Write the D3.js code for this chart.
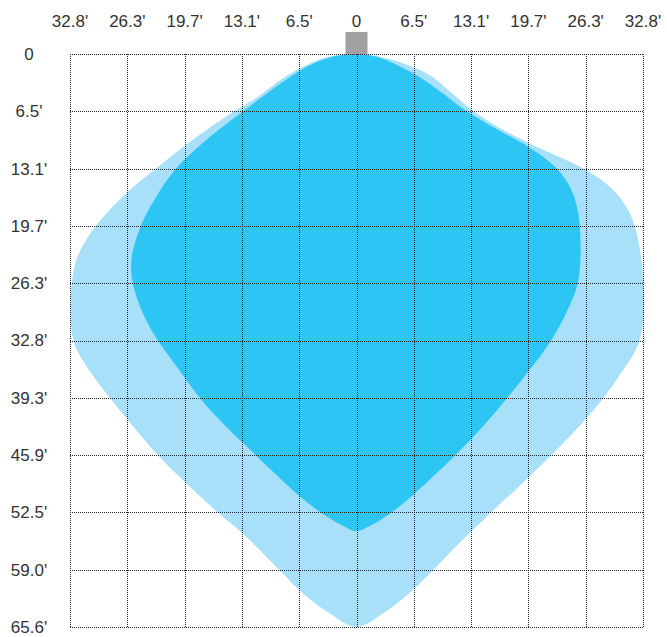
<!DOCTYPE html>
<html>
<head>
<meta charset="utf-8">
<script src="https://cdn.jsdelivr.net/npm/d3@7"></script>
<style>
    body { margin: 0; background: #fff; }
    text { font-family: "Liberation Sans", Arial, sans-serif; fill: #333; }
</style>
</head>
<body>
<svg id="visualization" width="667" height="637"></svg>
<script>
// tick positions in feet and their printed labels
const xTickFeet = [-32.8, -26.24, -19.68, -13.12, -6.56, 0, 6.56, 13.12, 19.68, 26.24, 32.8];
const xTickLabels = ["32.8'", "26.3'", "19.7'", "13.1'", "6.5'", "0", "6.5'", "13.1'", "19.7'", "26.3'", "32.8'"];
const yTickFeet = [0, 6.56, 13.12, 19.68, 26.24, 32.8, 39.36, 45.92, 52.48, 59.04, 65.6];
const yTickLabels = ["0", "6.5'", "13.1'", "19.7'", "26.3'", "32.8'", "39.3'", "45.9'", "52.5'", "59.0'", "65.6'"];

// outer (light) coverage outline, [x ft, depth ft]
const outerShape = [
    [0, 0], [3.43, 0.49], [8.01, 2.21], [10.5, 4.12], [13.36, 6.53], [16.8, 8.7], [20.61, 10.61],
    [25.95, 13.09], [29.39, 15.57], [31.29, 18.24], [32.25, 21.29], [32.86, 26.18], [32.89, 29.69],
    [32.43, 32.74], [31.65, 34.46], [30.53, 36.18], [28.28, 39.38], [25.53, 42.59], [22.32, 45.91],
    [18.78, 49.34], [15.23, 52.66], [11.79, 55.98], [8.78, 59.07], [6.07, 61.71], [3.06, 64.03], [0, 65.6],
    [-3.09, 64.03], [-6.15, 61.74], [-8.82, 59.07], [-12.63, 55.26], [-15.88, 52.47], [-19.5, 49.15],
    [-22.75, 45.91], [-26.18, 41.9], [-28.05, 39.61], [-29.65, 37.55], [-31.02, 35.6], [-32.17, 33.54],
    [-32.63, 31.6], [-32.74, 29.65], [-32.59, 26.18], [-31.94, 23.21], [-30.19, 20.15], [-26.79, 16.34],
    [-22.93, 13.09], [-18.78, 9.85], [-13.97, 6.53], [-11.33, 4.92], [-8.7, 2.98], [-6.07, 1.43], [-3.32, 0.34]
];

// inner (dark) coverage outline
const innerShape = [
    [0, 0], [2.29, 0.31], [6.49, 2.21], [9.35, 4.12], [12.59, 6.53], [16.22, 8.7], [19.66, 10.61],
    [22.9, 13.09], [24.61, 15.57], [25.38, 18.24], [25.64, 21.29], [25.64, 23.35], [25.3, 26.45],
    [24.16, 29.31], [22.32, 32.74], [19.81, 36.18], [17.06, 39.61], [14.31, 42.82], [11.45, 45.79],
    [8.59, 48.54], [6.07, 50.83], [3.78, 52.66], [1.72, 53.92], [0, 54.61], [-1.72, 53.92],
    [-4.01, 52.55], [-6.53, 50.6], [-9.04, 48.31], [-11.79, 45.68], [-14.77, 42.82], [-17.74, 39.61],
    [-20.72, 35.6], [-23.35, 31.83], [-25.07, 28.16], [-25.76, 25.3], [-25.7, 23.01], [-25.19, 21.06],
    [-24.5, 19.23], [-22.93, 16.34], [-20.64, 13.09], [-17.21, 9.85], [-12.94, 6.53], [-10.19, 4.46],
    [-7.44, 2.52], [-4.92, 1.09], [-2.4, 0.23]
];

const setupVisualization = () => {
    const svg = d3.select("#visualization");

    const plot = { left: 70, right: 643, top: 54, bottom: 627 };

    const xScale = d3.scaleLinear()
        .domain([-32.8, 32.8])
        .range([plot.left, plot.right]);
    const yScale = d3.scaleLinear()
        .domain([0, 65.6])
        .range([plot.top, plot.bottom]);

    const shapeLine = d3.line()
        .x(d => xScale(d[0]))
        .y(d => yScale(d[1]))
        .curve(d3.curveCatmullRomClosed.alpha(0.5));

    svg.selectAll(".coverage")
        .data([{ pts: outerShape, colour: "#a8e0fa" }, { pts: innerShape, colour: "#2cc5f4" }])
        .join("path")
        .attr("class", "coverage")
        .attr("fill", d => d.colour)
        .attr("d", d => shapeLine(d.pts));

    // sensor head on top
    svg.append("rect")
        .attr("x", xScale(-1.26))
        .attr("y", yScale(0) - 22)
        .attr("width", xScale(1.26) - xScale(-1.26))
        .attr("height", 22)
        .attr("fill", "#a1a1a1");

    // dotted grid over the shapes
    const snap = v => Math.round(v) + 0.5;
    svg.selectAll(".grid-v")
        .data(xTickFeet)
        .join("line")
        .attr("class", "grid-v")
        .attr("x1", d => snap(xScale(d)))
        .attr("x2", d => snap(xScale(d)))
        .attr("y1", plot.top)
        .attr("y2", plot.bottom + 1)
        .attr("stroke", "#222")
        .attr("stroke-dasharray", "1,1")
        .attr("shape-rendering", "crispEdges");

    svg.selectAll(".grid-h")
        .data(yTickFeet)
        .join("line")
        .attr("class", "grid-h")
        .attr("y1", d => snap(yScale(d)))
        .attr("y2", d => snap(yScale(d)))
        .attr("x1", plot.left)
        .attr("x2", plot.right + 1)
        .attr("stroke", "#222")
        .attr("stroke-dasharray", "1,1")
        .attr("shape-rendering", "crispEdges");

    svg.selectAll(".x-label")
        .data(xTickFeet)
        .join("text")
        .attr("class", "x-label")
        .attr("x", d => xScale(d))
        .attr("y", 27)
        .attr("text-anchor", "middle")
        .attr("font-size", 17)
        .text((_, i) => xTickLabels[i]);

    svg.selectAll(".y-label")
        .data(yTickFeet)
        .join("text")
        .attr("class", "y-label")
        .attr("x", 29)
        .attr("y", d => yScale(d))
        .attr("dy", "0.35em")
        .attr("text-anchor", "middle")
        .attr("font-size", 17)
        .text((_, i) => yTickLabels[i]);
};

setupVisualization();
</script>
</body>
</html>
